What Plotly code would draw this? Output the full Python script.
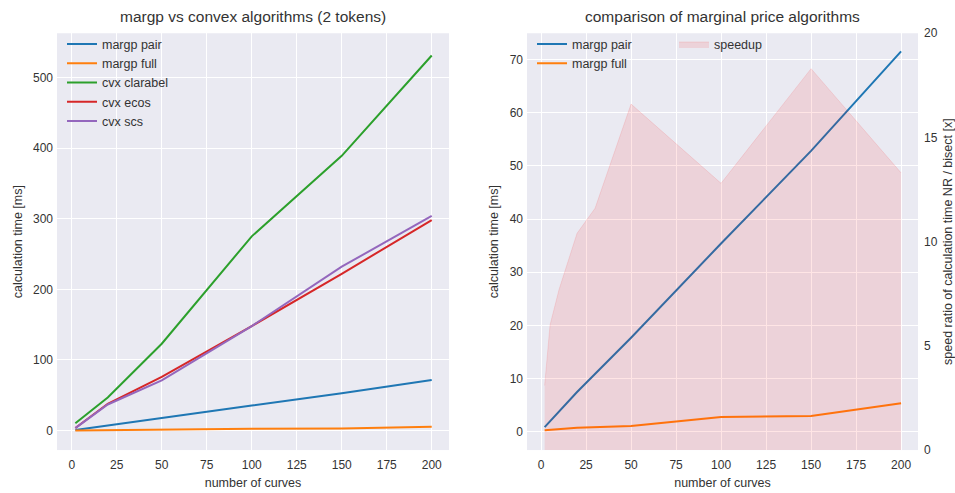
import plotly.graph_objects as go

# number of curves in the benchmark
curves = [2, 20, 50, 100, 150, 200]

# calculation time [ms]
margp_pair = [0.9, 7.5, 17.7, 35.4, 52.8, 71.5]
margp_full = [0.3, 0.8, 1.1, 2.8, 3.0, 5.4]
cvx_clarabel = [10.5, 47.0, 123.0, 275.0, 389.0, 531.0]
cvx_ecos = [3.8, 38.0, 76.0, 148.0, 222.0, 298.0]
cvx_scs = [3.5, 37.0, 71.0, 148.0, 232.0, 304.0]

# speed ratio NR / bisect
speed_curves = [2, 5, 10, 20, 30, 50, 100, 150, 200]
speedup = [3.1, 6.0, 7.7, 10.4, 11.6, 16.6, 12.8, 18.3, 13.3]

x_ticks = [0, 25, 50, 75, 100, 125, 150, 175, 200]

BLUE, ORANGE, GREEN, RED, PURPLE = "#1f77b4", "#ff7f0e", "#2ca02c", "#d62728", "#9467bd"
BG = "#EAEAF2"
TXT = "#333333"
FONT = "Liberation Sans, Arial, sans-serif"

W, H = 955, 493


def px_x(p):
    return p / W


def px_y(p):
    return 1 - p / H


fig = go.Figure()

left = [
    ("margp pair", margp_pair, BLUE),
    ("margp full", margp_full, ORANGE),
    ("cvx clarabel", cvx_clarabel, GREEN),
    ("cvx ecos", cvx_ecos, RED),
    ("cvx scs", cvx_scs, PURPLE),
]
for name, vals, col in left:
    fig.add_trace(go.Scatter(x=curves, y=vals, name=name, mode="lines",
                             line=dict(color=col, width=2),
                             xaxis="x", yaxis="y", legend="legend"))

for name, vals, col in left[:2]:
    fig.add_trace(go.Scatter(x=curves, y=vals, name=name, mode="lines",
                             line=dict(color=col, width=2),
                             xaxis="x2", yaxis="y2", legend="legend2"))

# speedup area sits on the twin axis, drawn over the timing lines
fig.add_trace(go.Scatter(x=speed_curves, y=speedup, name="speedup", mode="lines",
                         fill="tozeroy", fillcolor="rgba(255,0,0,0.10)",
                         line=dict(color="rgba(255,0,0,0.10)", width=1),
                         xaxis="x2", yaxis="y3", legend="legend3"))

tick_font = dict(size=12, color=TXT, family=FONT)
label_font = dict(size=12.5, color=TXT, family=FONT)
axis_common = dict(showgrid=True, gridcolor="white", gridwidth=1, zeroline=False,
                   showline=False, ticks="", tickfont=tick_font, title_font=label_font)

ytop, ybot = px_y(27), px_y(456)

fig.update_layout(
    width=W, height=H,
    margin=dict(l=0, r=0, t=0, b=0),
    paper_bgcolor="white",
    plot_bgcolor=BG,
    font=dict(family=FONT, color=TXT),
    xaxis=dict(domain=[px_x(57), px_x(449)], range=[-8.2, 209.6], tickvals=x_ticks,
               anchor="y", ticklabelstandoff=6,
               title=dict(text="number of curves", standoff=7), **axis_common),
    yaxis=dict(domain=[ybot, ytop], range=[-27.5, 562.5], dtick=100, anchor="x",
               ticklabelstandoff=3,
               title=dict(text="calculation time [ms]", standoff=7), **axis_common),
    xaxis2=dict(domain=[px_x(527), px_x(918)], range=[-7.8, 209.4], tickvals=x_ticks,
                anchor="y2", ticklabelstandoff=6,
                title=dict(text="number of curves", standoff=7), **axis_common),
    yaxis2=dict(domain=[ybot, ytop], range=[-3.4, 74.9], dtick=10, anchor="x2",
                ticklabelstandoff=3,
                title=dict(text="calculation time [ms]", standoff=8), **axis_common),
    yaxis3=dict(overlaying="y2", side="right", anchor="x2", range=[0, 20], dtick=5,
                showgrid=False, zeroline=False, showline=False, ticks="",
                tickfont=tick_font, ticklabelstandoff=5,
                title=dict(text="speed ratio of calculation time NR / bisect [x]",
                           font=label_font, standoff=8)),
    legend=dict(x=px_x(62), y=px_y(23), xanchor="left", yanchor="top",
                bgcolor="rgba(0,0,0,0)", font=dict(size=12.5, color=TXT, family=FONT),
                tracegroupgap=0),
    legend2=dict(x=px_x(532), y=px_y(23), xanchor="left", yanchor="top",
                 bgcolor="rgba(0,0,0,0)", font=dict(size=12.5, color=TXT, family=FONT)),
    legend3=dict(x=px_x(674), y=px_y(23), xanchor="left", yanchor="top",
                 bgcolor="rgba(0,0,0,0)", font=dict(size=12.5, color=TXT, family=FONT)),
    annotations=[
        dict(text="margp vs convex algorithms (2 tokens)", x=(px_x(57) + px_x(449)) / 2,
             y=px_y(10), xref="paper", yref="paper", xanchor="center", yanchor="middle",
             showarrow=False, font=dict(size=15.5, color=TXT, family=FONT)),
        dict(text="comparison of marginal price algorithms", x=(px_x(527) + px_x(918)) / 2,
             y=px_y(10), xref="paper", yref="paper", xanchor="center", yanchor="middle",
             showarrow=False, font=dict(size=15.5, color=TXT, family=FONT)),
    ],
)

fig.write_html("out.html")
